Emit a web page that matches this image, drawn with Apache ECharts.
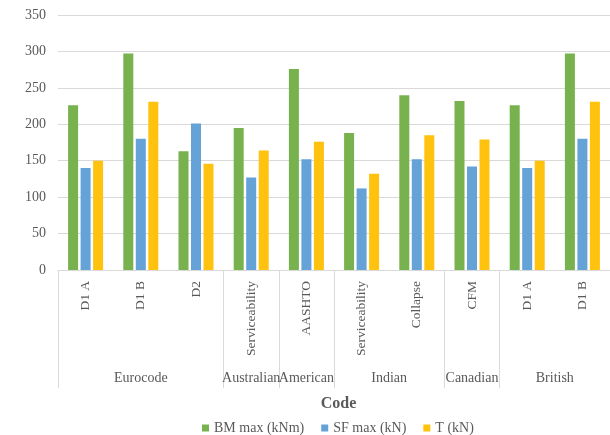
<!DOCTYPE html>
<html>
<head>
<meta charset="utf-8">
<style>html,body{margin:0;padding:0;background:#fff;}#c{width:610px;height:435px;}</style>
<script src="https://cdn.jsdelivr.net/npm/echarts@6/dist/echarts.min.js"></script>
</head>
<body>
<div id="c"></div>
<script>
const categories = ['D1 A', 'D1 B', 'D2', 'Serviceability', 'AASHTO', 'Serviceability', 'Collapse', 'CFM', 'D1 A', 'D1 B'];
const groupNames = ['Eurocode', 'Australian', 'American', 'Indian', 'Canadian', 'British'];
const groupSizes = [3, 1, 1, 2, 1, 2];
const seriesNames = ['BM max (kNm)', 'SF max (kN)', 'T (kN)'];
const bmMax = [226, 297, 163, 195, 276, 188, 240, 232, 226, 297];
const sfMax = [140, 180, 201, 127, 152, 112, 152, 142, 140, 180];
const tVal = [150, 231, 146, 164, 176, 132, 185, 179, 150, 231];
const yTicks = [0, 50, 100, 150, 200, 250, 300, 350];

const FONT = "'Liberation Serif', 'Times New Roman', serif";
const TXT = '#595959';
const GRID = '#d9d9d9';
const colors = ['#78b24f', '#64a2d7', '#ffc20e'];

// group boundaries and centres in category units
const bounds = [0];
groupSizes.forEach(s => bounds.push(bounds[bounds.length - 1] + s));
const centres = groupNames.map((n, i) => (bounds[i] + bounds[i + 1]) / 2);

const chart = echarts.init(document.getElementById('c'), null, {renderer: 'canvas'});
chart.setOption({
  animation: false,
  color: colors,
  textStyle: {fontFamily: FONT, color: TXT},
  grid: {left: 58, top: 15, width: 559, height: 255, containLabel: false},
  legend: {
    data: seriesNames,
    left: 197, top: 416,
    icon: 'rect', itemWidth: 7, itemHeight: 7, itemGap: 17,
    textStyle: {fontFamily: FONT, fontSize: 14, color: TXT}
  },
  xAxis: [
    {
      type: 'category',
      data: categories,
      axisLine: {show: true, lineStyle: {color: GRID, width: 1}},
      axisTick: {show: false},
      axisLabel: {interval: 0, rotate: 90, margin: 11, fontFamily: FONT, fontSize: 13.5, color: TXT},
      name: 'Code',
      nameLocation: 'middle',
      nameGap: 126,
      nameTextStyle: {fontFamily: FONT, fontSize: 16, fontWeight: 'bold', color: TXT, padding: [0, 0, 0, 9]}
    },
    {
      type: 'value',
      min: 0, max: categories.length,
      position: 'bottom',
      axisLine: {show: false},
      splitLine: {show: false},
      axisTick: {show: true, customValues: bounds, length: 118, lineStyle: {color: GRID, width: 1}},
      axisLabel: {
        customValues: centres,
        margin: 101,
        fontFamily: FONT, fontSize: 14, color: TXT,
        formatter: v => { const i = centres.indexOf(v); return i >= 0 ? groupNames[i] : ''; }
      }
    }
  ],
  yAxis: {
    type: 'value',
    min: yTicks[0], max: yTicks[yTicks.length - 1], interval: 50,
    axisLine: {show: false},
    axisTick: {show: false},
    splitLine: {lineStyle: {color: GRID, width: 1}},
    axisLabel: {margin: 12, fontFamily: FONT, fontSize: 14, color: TXT}
  },
  series: [
    {name: seriesNames[0], type: 'bar', data: bmMax, barWidth: 10, barGap: '25%', xAxisIndex: 0},
    {name: seriesNames[1], type: 'bar', data: sfMax, barWidth: 10, barGap: '25%', xAxisIndex: 0},
    {name: seriesNames[2], type: 'bar', data: tVal, barWidth: 10, barGap: '25%', xAxisIndex: 0}
  ]
});
</script>
</body>
</html>
